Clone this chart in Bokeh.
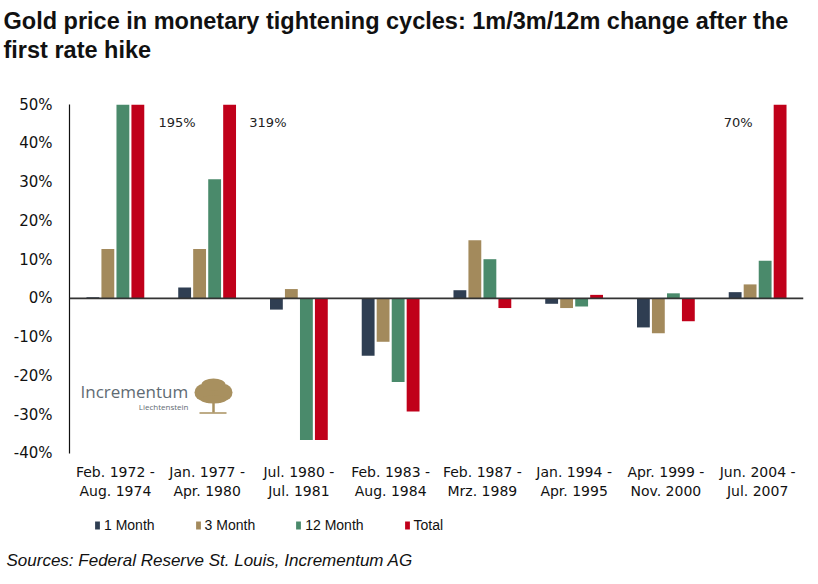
from bokeh.plotting import figure
from bokeh.models import (Range1d, ColumnDataSource, Span, Legend,
                          LegendItem, Title, FixedTicker)
from bokeh.transform import dodge
from bokeh.core.properties import value
from bokeh.embed import file_html
from bokeh.resources import INLINE

# ---------------- data ----------------
periods = ["Feb. 1972 -\nAug. 1974", "Jan. 1977 -\nApr. 1980", "Jul. 1980 -\nJul. 1981",
           "Feb. 1983 -\nAug. 1984", "Feb. 1987 -\nMrz. 1989", "Jan. 1994 -\nApr. 1995",
           "Apr. 1999 -\nNov. 2000", "Jun. 2004 -\nJul. 2007"]
month1 = [0.3, 2.8, -2.9, -14.8, 2.1, -1.4, -7.5, 1.6]
month3 = [12.7, 12.7, 2.4, -11.2, 15.0, -2.5, -9.0, 3.6]
month12 = [65.0, 30.7, -36.5, -21.6, 10.1, -2.1, 1.3, 9.7]
total = [195.0, 319.0, -36.5, -29.2, -2.5, 0.9, -5.9, 70.0]
series_names = ["1 Month", "3 Month", "12 Month", "Total"]
y_ticks = [-40, -30, -20, -10, 0, 10, 20, 30, 40, 50]

# ---------------- styles ----------------
colors = ["#2f3e52", "#a38a5c", "#4a8a6b", "#c0001a"]
offsets = [-0.245, -0.082, 0.082, 0.245]
bar_w = 0.14
Y_MIN, Y_MAX = -40, 50
Y_VIEW_MIN = -64  # room below the axis for category labels and legend

xpos = [i + 0.5 for i in range(len(periods))]
src = ColumnDataSource(dict(x=xpos, m1=month1, m3=month3, m12=month12, tot=total))

p = figure(width=810, height=576, x_range=Range1d(0, len(periods)),
           y_range=Range1d(Y_VIEW_MIN, Y_MAX),
           output_backend="svg", toolbar_location=None,
           min_border_left=69, min_border_right=7, min_border_top=104, min_border_bottom=30)
p.outline_line_color = None
p.background_fill_color = "white"
p.border_fill_color = "white"
p.xgrid.grid_line_color = None
p.ygrid.grid_line_color = None

# pixel-like extra ranges for the decorative logo / category labels
p.extra_x_ranges["px"] = Range1d(69, 803)
p.extra_y_ranges["py"] = Range1d(546, 104)

renderers = []
for col, c, off in zip(["m1", "m3", "m12", "tot"], colors, offsets):
    r = p.vbar(x=dodge("x", off), top=col, width=bar_w, bottom=0,
               source=src, fill_color=c, line_color=None)
    renderers.append(r)

p.add_layout(Span(location=0, dimension="width", line_color="#333333", line_width=1.6))

# labels for clipped totals
lab_offsets = [0.47, 0.46, 0, 0, 0, 0, 0, -0.055]
lab_align = ["left", "left", "left", "left", "left", "left", "left", "right"]
for xp, t, o, a in zip(xpos, total, lab_offsets, lab_align):
    if t > Y_MAX:
        p.text(x=dodge("x", o), y="y", text="t",
               source=ColumnDataSource(dict(x=[xp], y=[45.3], t=[f"{t:.0f}%"])),
               text_align=a, text_baseline="middle", text_font=value("DejaVu Sans"),
               text_font_size="13px", text_color="#222222")

# y axis
p.yaxis.ticker = FixedTicker(ticks=y_ticks)
p.yaxis.bounds = (Y_MIN, Y_MAX)
p.yaxis.major_label_overrides = {v: f"{v}%" for v in y_ticks}
p.yaxis.major_tick_line_color = None
p.yaxis.minor_tick_line_color = None
p.yaxis.axis_line_color = "#111111"
p.yaxis.axis_line_width = 1.2
p.yaxis.major_label_standoff = 11
p.yaxis.major_label_text_font = "DejaVu Sans"
p.yaxis.major_label_text_font_size = "15px"
p.yaxis.major_label_text_color = "#111111"

# category labels under the -40% line
p.xaxis.visible = False
cat_src = ColumnDataSource(dict(x=xpos, y=[463] * len(periods), t=periods))
p.text(x="x", y="y", text="t", source=cat_src, y_range_name="py",
       text_align="center", text_baseline="top", text_font=value("DejaVu Sans"),
       text_font_size="14px", text_line_height=1.2, text_color="#111111")

# legend
legend = Legend(items=[LegendItem(label=n, renderers=[r]) for n, r in zip(series_names, renderers)],
                orientation="horizontal", location=(25, 13), glyph_width=6, glyph_height=10,
                label_standoff=4, spacing=40, padding=0, margin=0,
                border_line_alpha=0, background_fill_alpha=0,
                label_text_font="Liberation Sans", label_text_font_size="14px",
                label_text_color="#111111")
p.add_layout(legend, "center")

# logo
p.text(x=[80], y=[391], text=["Incrementum"], x_range_name="px", y_range_name="py",
       text_font=value("Open Sans"), text_font_size="17px", text_color="#5f6b73",
       text_baseline="middle", text_align="left")
p.text(x=[188], y=[406], text=["Liechtenstein"], x_range_name="px", y_range_name="py",
       text_font=value("Open Sans"), text_font_size="8px", text_color="#5f6b73",
       text_baseline="middle", text_align="right")
gold = "#a8905f"
p.ellipse(x=[213, 203, 223, 213, 213], y=[392, 392, 392, 384, 399],
          width=[32, 18, 18, 24, 26], height=[20, 17, 17, 12, 8],
          x_range_name="px", y_range_name="py", fill_color=gold, line_color=None)
p.segment(x0=[213], y0=[398], x1=[213], y1=[412], x_range_name="px", y_range_name="py",
          line_color=gold, line_width=2.5)
p.segment(x0=[199], y0=[412.5], x1=[226], y1=[412.5], x_range_name="px", y_range_name="py",
          line_color=gold, line_width=1.5)

# title (two lines) with a blank spacer between it and the plot
spacer = Title(text=" ", text_font_size="33px", standoff=0)
p.add_layout(spacer, "above")
t1 = Title(text="Gold price in monetary tightening cycles: 1m/3m/12m change after the\nfirst rate hike",
           align="left", vertical_align="top", text_font="Liberation Sans", text_font_style="bold",
           text_font_size="23.5px", offset=-66, standoff=0, text_color="#111111",
           text_line_height=1.15)
p.add_layout(t1, "above")

src_t = Title(text="Sources: Federal Reserve St. Louis, Incrementum AG", align="left",
              vertical_align="top", text_font="Liberation Sans", text_font_style="italic",
              text_font_size="17px", offset=-63, standoff=8, text_color="#111111")
p.add_layout(src_t, "below")

open("out.html", "w").write(file_html(p, INLINE))
